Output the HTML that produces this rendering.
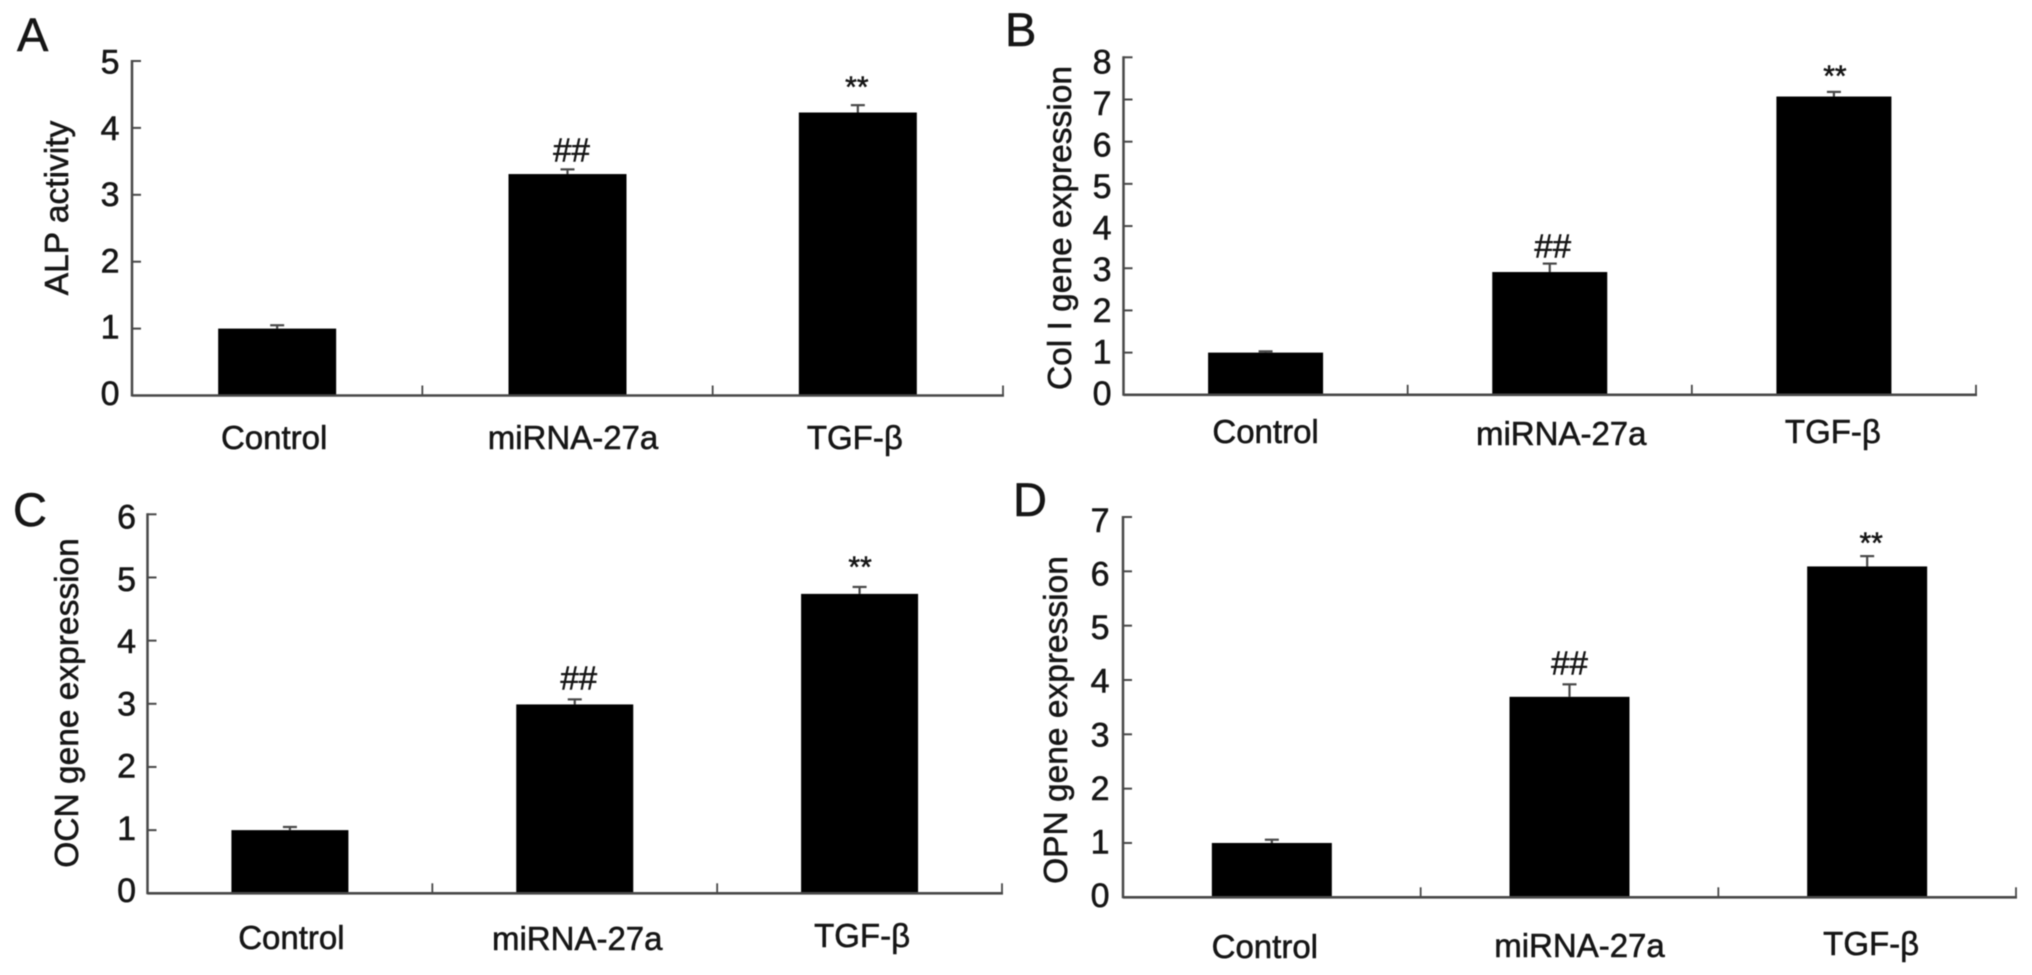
<!DOCTYPE html>
<html lang="en">
<head>
<meta charset="utf-8">
<title>Gene expression bar charts</title>
<style>
html,body{margin:0;padding:0;background:#fff;width:2032px;height:975px;overflow:hidden}
svg{display:block;filter:blur(.6px)}
text{font-family:"Liberation Sans",Arial,sans-serif;fill:#161616;stroke:#161616;stroke-width:.55px}
</style>
</head>
<body>
<svg id="figure" xmlns="http://www.w3.org/2000/svg" width="2032" height="975" viewBox="0 0 2032 975"></svg>
<script>
const categories = ["Control", "miRNA-27a", "TGF-β"];
const markers = ["", "##", "**"];

const alpValues = [1, 3.31, 4.23];
const alpErrors = [0.05, 0.07, 0.11];
const alpTicks = [0, 1, 2, 3, 4, 5];

const colValues = [1, 2.91, 7.07];
const colErrors = [0.03, 0.2, 0.11];
const colTicks = [0, 1, 2, 3, 4, 5, 6, 7, 8];

const ocnValues = [1, 2.99, 4.74];
const ocnErrors = [0.05, 0.08, 0.11];
const ocnTicks = [0, 1, 2, 3, 4, 5, 6];

const opnValues = [1, 3.69, 6.09];
const opnErrors = [0.06, 0.23, 0.19];
const opnTicks = [0, 1, 2, 3, 4, 5, 6, 7];

const panels = [
  {id:"a", letter:"A", lx:17, ly:51, title:"ALP activity", tx:68, ty:208,
   left:132, right:1003, y0:395.5, yTop:61, barW:118, numGap:12.5, numTop:61.7, numBottom:393,
   values:alpValues, errors:alpErrors, ticks:alpTicks,
   labelDx:[-3,5.5,-3], labelY:[449,449,449], hashDx:4, hashGap:8, starDx:-1, starGap:8},
  {id:"b", letter:"B", lx:1005, ly:46, title:"Col I gene expression", tx:1071, ty:228,
   left:1123.5, right:1976, y0:394.8, yTop:57.3, barW:115, numGap:12, numTop:61.7, numBottom:393,
   values:colValues, errors:colErrors, ticks:colTicks,
   labelDx:[0,11.5,-1], labelY:[443,445,443], hashDx:3, hashGap:6, starDx:1, starGap:6},
  {id:"c", letter:"C", lx:13, ly:526, title:"OCN gene expression", tx:78, ty:703,
   left:147.5, right:1002, y0:893.3, yTop:514.3, barW:117, numGap:11.5, numTop:516.7, numBottom:890,
   values:ocnValues, errors:ocnErrors, ticks:ocnTicks,
   labelDx:[1.5,2.5,2.5], labelY:[949,950,947], hashDx:4, hashGap:10, starDx:0.5, starGap:10},
  {id:"d", letter:"D", lx:1013, ly:516, title:"OPN gene expression", tx:1067, ty:720,
   left:1123, right:2016, y0:897.3, yTop:517, barW:120, numGap:13.5, numTop:520, numBottom:895,
   values:opnValues, errors:opnErrors, ticks:opnTicks,
   labelDx:[-7,10,4], labelY:[958,957,955], hashDx:0, hashGap:10, starDx:4, starGap:3}
];

const NS = "http://www.w3.org/2000/svg";
const root = document.getElementById("figure");
const AXIS = "#484848";

function make(tag, attrs, parent, txt) {
  const el = document.createElementNS(NS, tag);
  for (const k in attrs) el.setAttribute(k, attrs[k]);
  if (txt !== undefined) el.textContent = txt;
  parent.appendChild(el);
  return el;
}

panels.forEach(function (p) {
  const maxTick = p.ticks[p.ticks.length - 1];
  const yScale = function (v) { return p.y0 - (v / maxTick) * (p.y0 - p.yTop); };
  const numScale = function (v) { return p.numBottom - (v / maxTick) * (p.numBottom - p.numTop); };
  const band = (p.right - p.left) / categories.length;
  const xScale = function (i) { return p.left + (i + 0.5) * band; };

  const g = make("g", {}, root);
  
  

  const letter = make("text", {x:p.lx, y:p.ly, "font-size":47}, g, p.letter);
  
  

  const title = make("text", {transform:"translate(" + p.tx + "," + p.ty + ") rotate(-90)", "text-anchor":"middle", "font-size":33.5}, g, p.title);
  
  

  p.values.forEach(function (v, i) {
    const cx = xScale(i);
    const top = yScale(v);
    const errTop = yScale(v + p.errors[i]);

    const stem = make("line", {x1:cx, x2:cx, y1:top, y2:errTop, stroke:AXIS, "stroke-width":2.2}, g);
    
    

    const cap = make("line", {x1:cx - 7, x2:cx + 7, y1:errTop, y2:errTop, stroke:AXIS, "stroke-width":2.2}, g);
    
    

    const bar = make("rect", {x:cx - p.barW / 2, y:top, width:p.barW, height:p.y0 - top, fill:"#000"}, g);
    
    

    const label = make("text", {x:cx + p.labelDx[i], y:p.labelY[i], "text-anchor":"middle", "font-size":33}, g, categories[i]);
    
    

    if (markers[i] === "##") {
      const hash = make("text", {x:cx + p.hashDx, y:errTop - p.hashGap, "text-anchor":"middle", "font-size":33}, g, markers[i]);
      
      
    } else if (markers[i] === "**") {
      const star = make("text", {x:cx + p.starDx, y:errTop - p.starGap, "text-anchor":"middle", "font-size":30}, g, markers[i]);
      
      
    }
  });

  const yAxis = make("line", {x1:p.left, x2:p.left, y1:p.yTop - 1, y2:p.y0 + 1, stroke:AXIS, "stroke-width":2.5}, g);
  
  

  const xAxis = make("line", {x1:p.left, x2:p.right + 1, y1:p.y0, y2:p.y0, stroke:AXIS, "stroke-width":2.6}, g);
  
  

  p.ticks.forEach(function (t) {
    const y = yScale(t);
    const tick = make("line", {x1:p.left, x2:p.left + 9, y1:y, y2:y, stroke:AXIS, "stroke-width":2}, g);
    
    

    const tl = make("text", {x:p.left - p.numGap, y:numScale(t) + 12, "text-anchor":"end", "font-size":34}, g, String(t));
    
    
  });

  for (let i = 1; i <= categories.length; i++) {
    const x = p.left + i * band;
    const xt = make("line", {x1:x, x2:x, y1:p.y0, y2:p.y0 - 10, stroke:AXIS, "stroke-width":1.8}, g);
    
    
  }
});
</script>
</body>
</html>
